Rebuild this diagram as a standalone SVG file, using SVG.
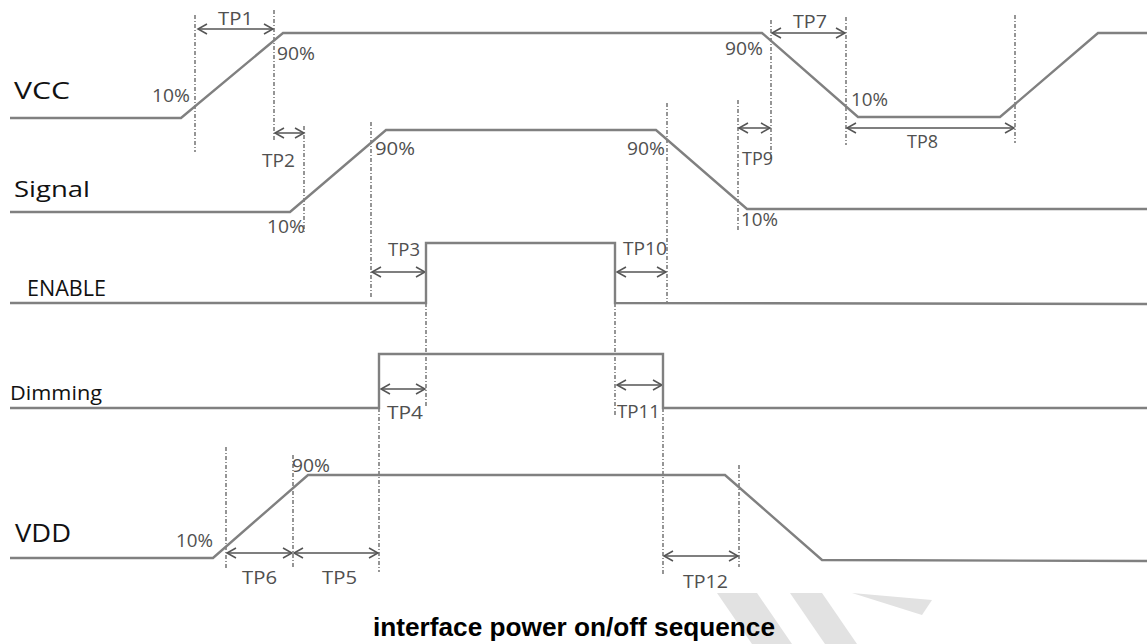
<svg xmlns="http://www.w3.org/2000/svg" width="1147" height="644" viewBox="0 0 1147 644">
<style>
.sig{fill:none;stroke:#808080;stroke-width:2.4;stroke-linejoin:miter}
.dash{fill:none;stroke:#6a6a6a;stroke-width:1.4;stroke-dasharray:4 2 1 2}
.arr{fill:none;stroke:#555;stroke-width:1.5;marker-start:url(#ah);marker-end:url(#ah)}
.lbl{font-family:"Open Sans","Noto Sans",sans-serif;fill:#111}
.sm{font-family:"Open Sans","Noto Sans",sans-serif;fill:#505050;font-size:17.5px}
.title{font-family:"Liberation Sans",Arial,sans-serif;font-weight:bold;font-size:26px;fill:#000}
</style>
<defs>
<marker id="ah" markerUnits="userSpaceOnUse" markerWidth="12" markerHeight="12" refX="9" refY="5" orient="auto-start-reverse" overflow="visible">
<path d="M0,0 L9,5 L0,10" fill="none" stroke="#555" stroke-width="1.5"/>
</marker>
</defs>
<rect width="1147" height="644" fill="#fff"/>
<g id="watermark" fill="#e2e2e2">
<polygon points="717,593 757,593 792,644 752,644"/>
<polygon points="790,593 822,593 857,644 825,644"/>
<polygon points="852,593 932,600 922,615"/>
</g>
<g id="connectors">
<line class="dash" x1="195" y1="15" x2="195" y2="152"/>
<line class="dash" x1="274" y1="10" x2="274" y2="140"/>
<line class="dash" x1="304" y1="126" x2="304" y2="232"/>
<line class="dash" x1="371" y1="122" x2="371" y2="297"/>
<line class="dash" x1="667" y1="103" x2="667" y2="303"/>
<line class="dash" x1="738" y1="100" x2="738" y2="230"/>
<line class="dash" x1="771" y1="20" x2="771" y2="160"/>
<line class="dash" x1="846" y1="17" x2="846" y2="145"/>
<line class="dash" x1="1015" y1="15" x2="1015" y2="143"/>
<line class="dash" x1="426" y1="303" x2="426" y2="407"/>
<line class="dash" x1="615" y1="303" x2="615" y2="415"/>
<line class="dash" x1="226" y1="447" x2="226" y2="570"/>
<line class="dash" x1="293" y1="455" x2="293" y2="568"/>
<line class="dash" x1="379" y1="408" x2="379" y2="572"/>
<line class="dash" x1="663" y1="408" x2="663" y2="574"/>
<line class="dash" x1="739" y1="465" x2="739" y2="567"/>
<line class="arr" x1="198" y1="29" x2="273" y2="29"/>
<line class="arr" x1="275" y1="133" x2="304" y2="133"/>
<line class="arr" x1="772" y1="33" x2="845" y2="33"/>
<line class="arr" x1="847" y1="128" x2="1014" y2="128"/>
<line class="arr" x1="739" y1="128" x2="770" y2="128"/>
<line class="arr" x1="372" y1="272" x2="425" y2="272"/>
<line class="arr" x1="617" y1="272" x2="666" y2="272"/>
<line class="arr" x1="381" y1="389" x2="425" y2="389"/>
<line class="arr" x1="617" y1="385" x2="662" y2="385"/>
<line class="arr" x1="227" y1="553" x2="292" y2="553"/>
<line class="arr" x1="294" y1="553" x2="378" y2="553"/>
<line class="arr" x1="664" y1="556" x2="738" y2="556"/>
</g>
<g id="VCC">
<polyline class="sig" points="10,118 181,118 283,33 762,33 858,117 1000,117 1098,33 1147,33"/>
<text class="lbl" x="14" y="99" font-size="23" textLength="56" lengthAdjust="spacingAndGlyphs">VCC</text>
</g>
<g id="Signal">
<polyline class="sig" points="10,212 290,212 386,130 656,130 747,209 1147,209"/>
<text class="lbl" x="14" y="197" font-size="22" textLength="76" lengthAdjust="spacingAndGlyphs">Signal</text>
</g>
<g id="ENABLE">
<polyline class="sig" points="10,303 426,303 426,243 615,243 615,303 1147,304"/>
<text class="lbl" x="27" y="296" font-size="21" textLength="79" lengthAdjust="spacingAndGlyphs">ENABLE</text>
</g>
<g id="Dimming">
<polyline class="sig" points="10,408 379,408 379,354 663,354 663,408 1147,408"/>
<text class="lbl" x="10" y="400" font-size="20" textLength="92" lengthAdjust="spacingAndGlyphs">Dimming</text>
</g>
<g id="VDD">
<polyline class="sig" points="10,558 213,558 308,475 725,475 822,560 1147,561"/>
<text class="lbl" x="15" y="542" font-size="25" textLength="56" lengthAdjust="spacingAndGlyphs">VDD</text>
</g>
<g id="labels">
<text class="sm" x="218" y="25" textLength="35" lengthAdjust="spacingAndGlyphs">TP1</text>
<text class="sm" x="277" y="60" textLength="38" lengthAdjust="spacingAndGlyphs">90%</text>
<text class="sm" x="152" y="102" textLength="38" lengthAdjust="spacingAndGlyphs">10%</text>
<text class="sm" x="262" y="167" textLength="33" lengthAdjust="spacingAndGlyphs">TP2</text>
<text class="sm" x="375" y="155" textLength="40" lengthAdjust="spacingAndGlyphs">90%</text>
<text class="sm" x="267" y="233" textLength="38" lengthAdjust="spacingAndGlyphs">10%</text>
<text class="sm" x="725" y="55" textLength="38" lengthAdjust="spacingAndGlyphs">90%</text>
<text class="sm" x="627" y="155" textLength="38" lengthAdjust="spacingAndGlyphs">90%</text>
<text class="sm" x="742" y="165" textLength="31" lengthAdjust="spacingAndGlyphs">TP9</text>
<text class="sm" x="741" y="226" textLength="37" lengthAdjust="spacingAndGlyphs">10%</text>
<text class="sm" x="793" y="28" textLength="34" lengthAdjust="spacingAndGlyphs">TP7</text>
<text class="sm" x="851" y="106" textLength="37" lengthAdjust="spacingAndGlyphs">10%</text>
<text class="sm" x="907" y="148" textLength="31" lengthAdjust="spacingAndGlyphs">TP8</text>
<text class="sm" x="388" y="256" textLength="32" lengthAdjust="spacingAndGlyphs">TP3</text>
<text class="sm" x="623" y="255" textLength="44" lengthAdjust="spacingAndGlyphs">TP10</text>
<text class="sm" x="387" y="419" textLength="36" lengthAdjust="spacingAndGlyphs">TP4</text>
<text class="sm" x="617" y="418" textLength="43" lengthAdjust="spacingAndGlyphs">TP11</text>
<text class="sm" x="292" y="472" textLength="38" lengthAdjust="spacingAndGlyphs">90%</text>
<text class="sm" x="176" y="547" textLength="37" lengthAdjust="spacingAndGlyphs">10%</text>
<text class="sm" x="242" y="584" textLength="35" lengthAdjust="spacingAndGlyphs">TP6</text>
<text class="sm" x="322" y="584" textLength="35" lengthAdjust="spacingAndGlyphs">TP5</text>
<text class="sm" x="683" y="588" textLength="45" lengthAdjust="spacingAndGlyphs">TP12</text>
</g>
<g id="title">
<text class="title" x="373" y="636" textLength="402" lengthAdjust="spacingAndGlyphs">interface power on/off sequence</text>
</g>
</svg>
